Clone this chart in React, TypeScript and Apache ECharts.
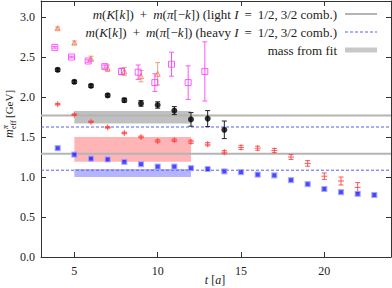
import React, { useEffect, useRef } from "react";
import * as echarts from "echarts";

// ---- data ----
const tBlack = [4, 5, 6, 7, 8, 9, 10, 11, 12, 13, 14];
const yBlack = [2.34, 2.19, 2.14, 2.02, 1.96, 1.92, 1.9, 1.83, 1.72, 1.73, 1.59];
const eBlack = [0.02, 0.02, 0.02, 0.02, 0.025, 0.035, 0.04, 0.05, 0.085, 0.1, 0.11];

const tRed = [4, 5, 6, 7, 8, 9, 10, 11, 12, 13, 14, 15, 16, 17, 18, 19, 20, 21, 22];
const yRed = [1.91, 1.78, 1.69, 1.62, 1.55, 1.5, 1.45, 1.46, 1.44, 1.41, 1.31, 1.37, 1.36, 1.33, 1.25, 1.17, 1.01, 0.95, 0.87];
const eRed = [0.01, 0.01, 0.01, 0.01, 0.01, 0.012, 0.015, 0.015, 0.02, 0.02, 0.02, 0.025, 0.025, 0.025, 0.03, 0.035, 0.04, 0.05, 0.06];

const tBlue = [4, 5, 6, 7, 8, 9, 10, 11, 12, 13, 14, 15, 16, 17, 18, 19, 20, 21, 22, 23];
const yBlue = [1.36, 1.28, 1.23, 1.22, 1.19, 1.16, 1.13, 1.13, 1.11, 1.1, 1.07, 1.06, 1.03, 1.02, 0.96, 0.91, 0.85, 0.81, 0.79, 0.775];

const tOrange = [4, 5, 6, 7, 8, 9, 10];
const yOrange = [2.86, 2.68, 2.48, 2.36, 2.32, 2.26, 2.29];
const eOrange = [0.015, 0.02, 0.03, 0.04, 0.05, 0.07, 0.14];

const tMagenta = [3.83, 4.83, 5.83, 6.83, 7.83, 8.83, 9.83, 10.83, 11.83, 12.83];
const yMagenta = [2.62, 2.5, 2.45, 2.38, 2.32, 2.31, 2.18, 2.41, 2.18, 2.32];
const eMagenta = [0.01, 0.01, 0.015, 0.02, 0.04, 0.09, 0.11, 0.15, 0.21, 0.37];

const bandRange = [5, 12];
const grayBand = [1.67, 1.825];
const redBand = [1.19, 1.5];
const blueBand = [1.0, 1.1];

const lightLevels = [1.77, 1.29];
const heavyLevels = [1.625, 1.085];

const xTicks = [5, 10, 15, 20];
const yTicks = [0, 0.5, 1.0, 1.5, 2.0, 2.5, 3.0];

const legendLight = "{i|m}({i|K}[{i|k}]){s|}+{s|}{i|m}({i|π}[−{i|k}]) (light {i|I}{s|}={s|}1/2,{c|}3/2 comb.)";
const legendHeavy = "{i|m}({i|K}[{i|k}]){s|}+{s|}{i|m}({i|π}[−{i|k}]) (heavy {i|I}{s|}={s|}1/2,{c|}3/2 comb.)";
const legendFit = "mass from fit";

const FONT = "'Liberation Serif', 'DejaVu Serif', serif";

const zip3 = (a: number[], b: number[], c: number[]) => a.map((v, i) => [v, b[i], c[i]]);
const zip2 = (a: number[], b: number[]) => a.map((v, i) => [v, b[i]]);

function errRender(color: string, cap: number, cross: boolean, width = 1) {
  return (params: any, api: any) => {
    const x = api.value(0);
    const y = api.value(1);
    const e = api.value(2);
    const top = api.coord([x, y + e]);
    const bot = api.coord([x, y - e]);
    const c = api.coord([x, y]);
    const style = { stroke: color, lineWidth: width };
    const children: any[] = [
      { type: "line", shape: { x1: top[0], y1: Math.min(top[1], cross ? c[1] - 3 : top[1]), x2: bot[0], y2: Math.max(bot[1], cross ? c[1] + 3 : bot[1]) }, style },
      { type: "line", shape: { x1: top[0] - cap, y1: top[1], x2: top[0] + cap, y2: top[1] }, style },
      { type: "line", shape: { x1: bot[0] - cap, y1: bot[1], x2: bot[0] + cap, y2: bot[1] }, style },
    ];
    if (cross) {
      children.push({ type: "line", shape: { x1: c[0] - 3, y1: c[1], x2: c[0] + 3, y2: c[1] }, style });
    }
    return { type: "group", children };
  };
}

function bandRender(color: string) {
  return (params: any, api: any) => {
    const p0 = api.coord([api.value(0), api.value(3)]);
    const p1 = api.coord([api.value(1), api.value(2)]);
    return {
      type: "rect",
      shape: { x: p0[0], y: p0[1], width: p1[0] - p0[0], height: p1[1] - p0[1] },
      style: { fill: color },
    };
  };
}

export default function App() {
  const ref = useRef<HTMLDivElement>(null);
  useEffect(() => {
    if (!ref.current) return;
    const chart = echarts.init(ref.current, undefined, { renderer: "svg" });
    const axisCommon = {
      min: 3,
      max: 24,
      type: "value" as const,
      splitLine: { show: false },
      axisLine: { show: true, onZero: false, lineStyle: { color: "#333", width: 1 } },
    };
    const yCommon = {
      min: 0,
      max: 3.2,
      type: "value" as const,
      splitLine: { show: false },
      axisLine: { show: true, onZero: false, lineStyle: { color: "#333", width: 1 } },
    };
    const band = (r: number[], color: string, name: string) => ({
      type: "custom",
      name,
      z: 1,
      renderItem: bandRender(color),
      encode: { x: [0, 1], y: [2, 3] },
      data: [[bandRange[0], bandRange[1], r[0], r[1]]],
      silent: true,
    });
    const hline = (v: number, color: string, dashed: boolean, width: number) => ({
      type: "line",
      z: 2,
      data: [[3, v], [24, v]],
      showSymbol: false,
      symbol: "none",
      lineStyle: { color, width, type: dashed ? [3, 2] : "solid" },
      silent: true,
    });
    const LF = 13;
    const rich = {
      i: { fontStyle: "italic", fontFamily: FONT, fontSize: LF, fill: "#222" },
      s: { width: 6, fontSize: LF },
      c: { width: 3, fontSize: LF },
    };
    const option: any = {
      animation: false,
      grid: { left: 41, right: 1, top: 1, bottom: 31, containLabel: false },
      xAxis: [
        {
          ...axisCommon,
          position: "bottom",
          axisTick: { show: true, inside: true, length: 5, customValues: xTicks, lineStyle: { color: "#333" } },
          axisLabel: { show: true, customValues: xTicks, margin: 8, fontFamily: FONT, fontSize: 12, color: "#222" },
        },
        {
          ...axisCommon,
          position: "top",
          axisTick: { show: true, inside: true, length: 5, customValues: xTicks, lineStyle: { color: "#333" } },
          axisLabel: { show: false },
        },
      ],
      yAxis: [
        {
          ...yCommon,
          position: "left",
          axisTick: { show: true, inside: true, length: 5, customValues: yTicks, lineStyle: { color: "#333" } },
          axisLabel: {
            show: true,
            customValues: yTicks,
            margin: 6,
            fontFamily: FONT,
            fontSize: 12,
            color: "#222",
            formatter: (v: number) => v.toFixed(1),
          },
        },
        {
          ...yCommon,
          position: "right",
          axisTick: { show: true, inside: true, length: 5, customValues: yTicks, lineStyle: { color: "#333" } },
          axisLabel: { show: false },
        },
      ],
      series: [
        band(grayBand, "rgba(150,150,150,0.6)", "grayBand"),
        band(redBand, "rgba(255,120,120,0.55)", "redBand"),
        band(blueBand, "rgba(120,120,255,0.55)", "blueBand"),
        hline(lightLevels[0], "#b4b4b4", false, 2),
        hline(lightLevels[1], "#b4b4b4", false, 2),
        hline(heavyLevels[0], "#5a5aff", true, 1),
        hline(heavyLevels[1], "#5a5aff", true, 1),
        {
          type: "custom",
          z: 3,
          renderItem: errRender("rgba(255,60,60,0.85)", 2.5, true),
          encode: { x: 0, y: 1 },
          data: zip3(tRed, yRed, eRed),
        },
        {
          type: "scatter",
          z: 4,
          symbol: "rect",
          symbolSize: 5,
          itemStyle: { color: "#1a1aff", borderColor: "#a8a8ff", borderWidth: 1.2 },
          data: zip2(tBlue, yBlue),
        },
        {
          type: "custom",
          z: 3,
          renderItem: errRender("#f0a080", 2.5, false),
          encode: { x: 0, y: 1 },
          data: zip3(tOrange, yOrange, eOrange),
        },
        {
          type: "scatter",
          z: 4,
          symbol: "triangle",
          symbolSize: 5,
          itemStyle: { color: "rgba(255,255,255,0)", borderColor: "#f07850", borderWidth: 1 },
          data: zip2(tOrange, yOrange),
        },
        {
          type: "custom",
          z: 3,
          renderItem: errRender("#ff55ff", 2.5, false),
          encode: { x: 0, y: 1 },
          data: zip3(tMagenta, yMagenta, eMagenta),
        },
        {
          type: "scatter",
          z: 4,
          symbol: "rect",
          symbolSize: 6,
          itemStyle: { color: "rgba(255,255,255,0)", borderColor: "#ff33ff", borderWidth: 1 },
          data: zip2(tMagenta, yMagenta),
        },
        {
          type: "custom",
          z: 3,
          renderItem: errRender("#222", 2.5, false),
          encode: { x: 0, y: 1 },
          data: zip3(tBlack, yBlack, eBlack),
        },
        {
          type: "scatter",
          z: 4,
          symbol: "circle",
          symbolSize: 6,
          itemStyle: { color: "#000" },
          data: zip2(tBlack, yBlack),
        },
      ],
      graphic: [
        {
          type: "text",
          x: 337,
          y: 14,
          z: 10,
          style: {
            text: legendLight,
            align: "right",
            verticalAlign: "middle",
            fontFamily: FONT,
            fontSize: LF,
            fill: "#222",
            rich,
          },
        },
        { type: "line", z: 10, shape: { x1: 345, y1: 14, x2: 377, y2: 14 }, style: { stroke: "#b4b4b4", lineWidth: 2 } },
        {
          type: "text",
          x: 337,
          y: 32,
          z: 10,
          style: {
            text: legendHeavy,
            align: "right",
            verticalAlign: "middle",
            fontFamily: FONT,
            fontSize: LF,
            fill: "#222",
            rich,
          },
        },
        { type: "line", z: 10, shape: { x1: 345, y1: 32, x2: 377, y2: 32 }, style: { stroke: "#5a5aff", lineWidth: 1, lineDash: [3, 2] } },
        {
          type: "text",
          x: 337,
          y: 50,
          z: 10,
          style: { text: legendFit, align: "right", verticalAlign: "middle", fontFamily: FONT, fontSize: 13, fill: "#222" },
        },
        { type: "rect", z: 10, shape: { x: 345, y: 47.5, width: 32, height: 5 }, style: { fill: "#c8c8c8" } },
        {
          type: "group",
          x: 9,
          y: 138,
          rotation: Math.PI / 2,
          children: [
            { type: "text", x: 0, y: 0, style: { text: "m", fontFamily: FONT, fontStyle: "italic", fontSize: 12, fill: "#222", verticalAlign: "middle" } },
            { type: "text", x: 9, y: -4, style: { text: "π", fontFamily: FONT, fontStyle: "italic", fontSize: 8, fill: "#222", verticalAlign: "middle" } },
            { type: "text", x: 9, y: 4, style: { text: "eff", fontFamily: FONT, fontSize: 8, fill: "#222", verticalAlign: "middle" } },
            { type: "text", x: 20, y: 0, style: { text: "[GeV]", fontFamily: FONT, fontSize: 11, fill: "#222", verticalAlign: "middle" } },
          ],
        },
        {
          type: "text",
          x: 215,
          y: 280,
          style: {
            text: "{i|t} [{i|a}]",
            align: "center",
            verticalAlign: "middle",
            fontFamily: FONT,
            fontSize: 12,
            fill: "#222",
            rich: { i: { fontStyle: "italic", fontFamily: FONT, fontSize: 12, fill: "#222" } },
          },
        },
      ],
    };
    chart.setOption(option);
    return () => chart.dispose();
  }, []);
  return <div ref={ref} style={{ position: "absolute", left: 0, top: 0, width: 392, height: 288 }} />;
}
